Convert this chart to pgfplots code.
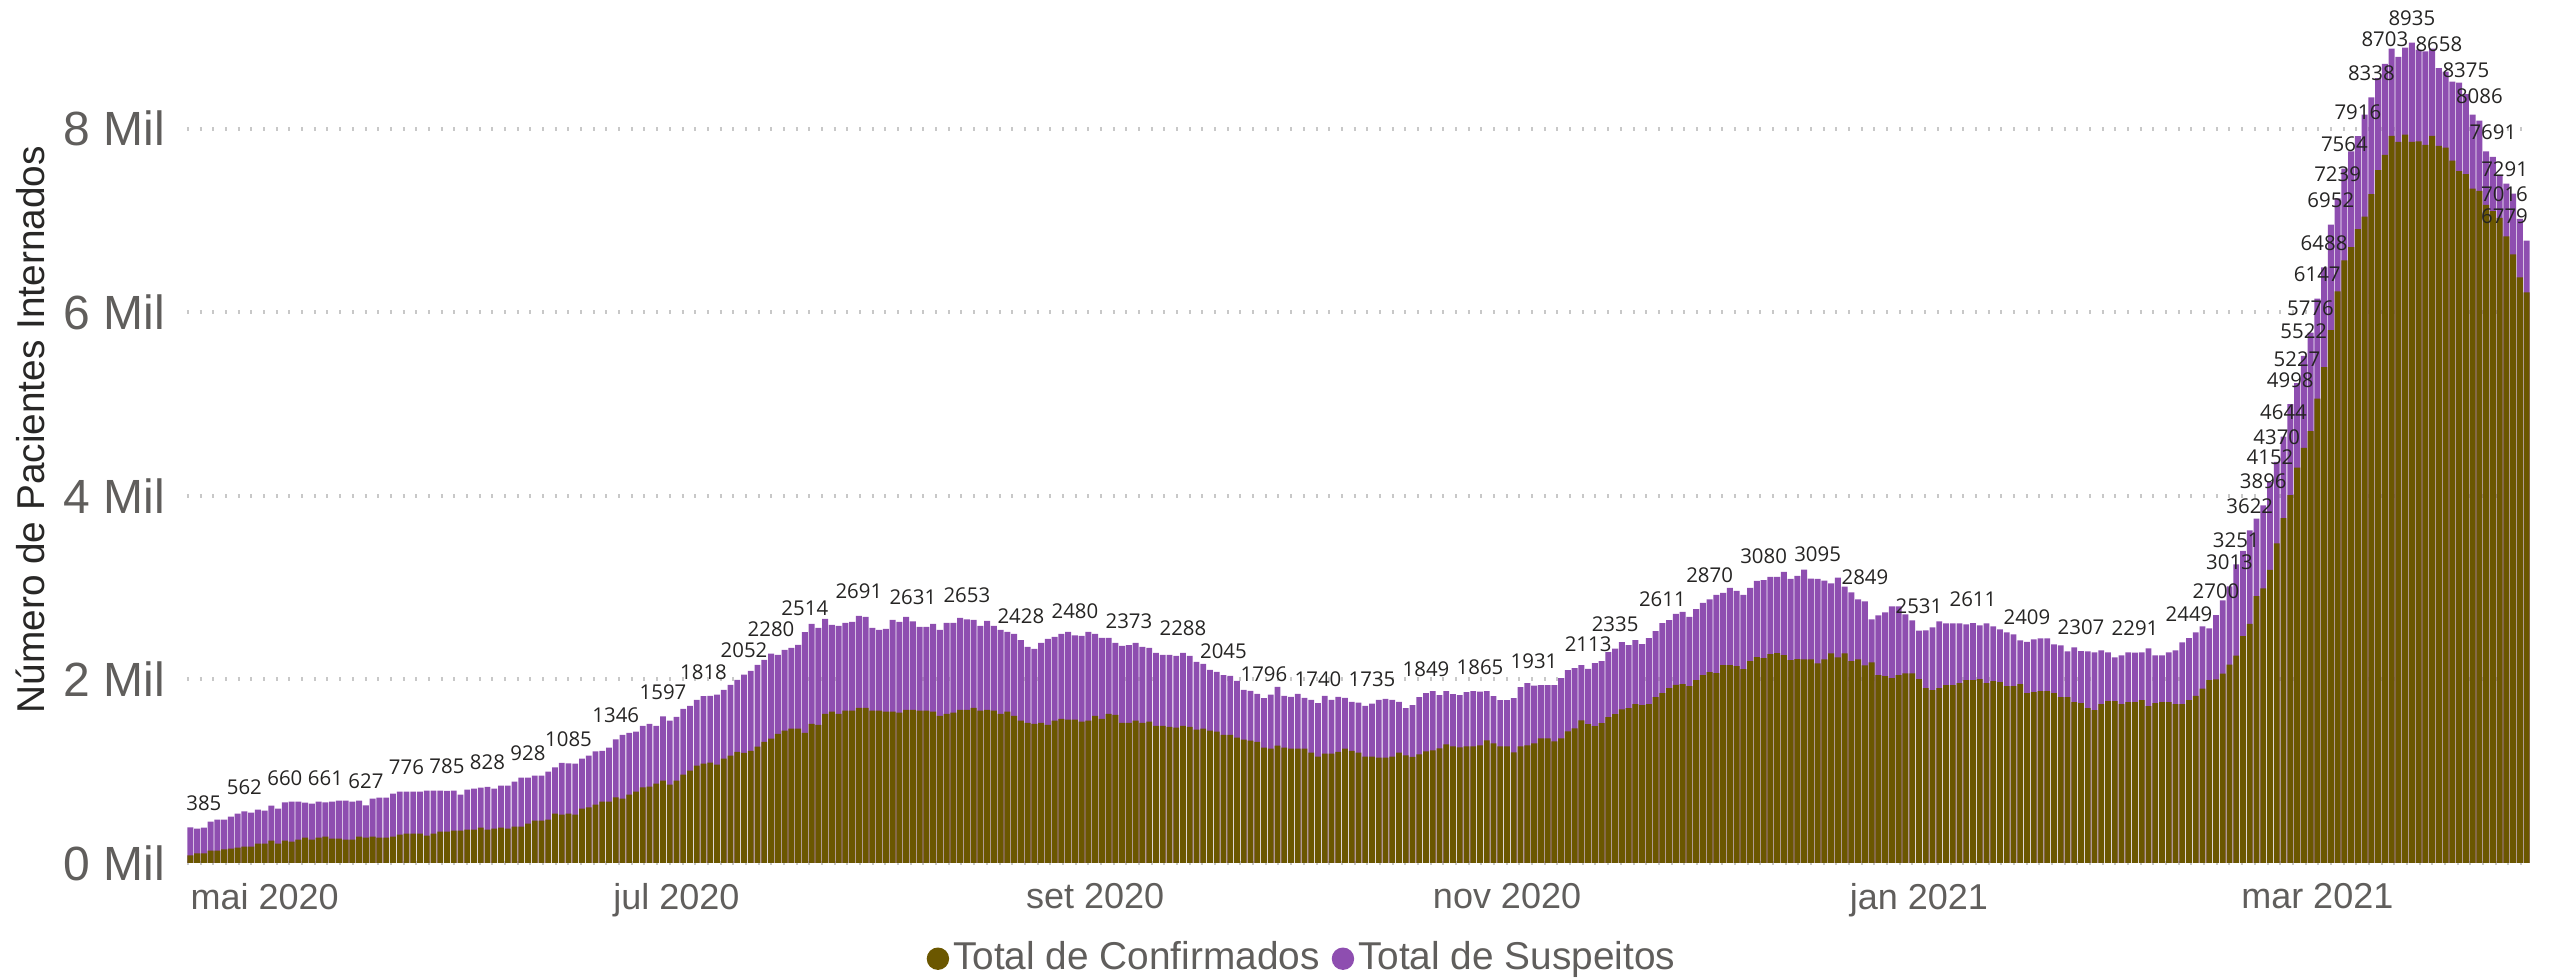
\documentclass[border=0pt]{standalone}
\usepackage{pgfplots}
\usepackage{pgfplotstable}
\usepackage{fontspec}
\pgfplotsset{compat=1.18}
\setmainfont{Liberation Sans}
\newfontfamily\labfont{Open Sans}

\definecolor{confcol}{RGB}{107,87,0}
\definecolor{suspcol}{RGB}{142,78,176}
\definecolor{txtgray}{RGB}{96,94,92}
\definecolor{titgray}{RGB}{40,39,38}
\definecolor{gridgray}{RGB}{200,200,200}
\definecolor{labblack}{RGB}{37,36,35}

% k = day index (0 = 20 abr 2020), conf = confirmados, susp = suspeitos
\pgfplotstableread{
k conf susp
0 83 305
1 105 269
2 105 280
3 134 316
4 134 338
5 149 323
6 156 348
7 167 370
8 178 384
9 178 370
10 210 370
11 210 359
12 243 381
13 210 381
14 243 417
15 232 435
16 254 413
17 276 380
18 254 392
19 276 391
20 287 374
21 265 402
22 265 413
23 254 424
24 254 413
25 287 391
26 276 351
27 287 413
28 276 435
29 276 435
30 287 467
31 308 468
32 319 457
33 319 457
34 319 457
35 297 490
36 319 468
37 341 446
38 341 444
39 352 435
40 352 392
41 363 435
42 363 446
43 384 436
44 363 465
45 374 435
46 384 457
47 374 467
48 395 490
49 395 533
50 428 500
51 461 489
52 461 489
53 472 522
54 537 503
55 526 564
56 537 548
57 526 555
58 591 544
59 606 562
60 635 580
61 667 555
62 667 588
63 715 631
64 700 696
65 744 674
66 776 653
67 823 671
68 831 685
69 863 631
70 896 701
71 852 697
72 896 696
73 961 718
74 1005 707
75 1059 718
76 1081 737
77 1092 729
78 1070 762
79 1135 751
80 1168 772
81 1211 784
82 1200 852
83 1222 871
84 1266 892
85 1320 892
86 1353 927
87 1407 860
88 1440 881
89 1462 881
90 1462 914
91 1418 1096
92 1516 1088
93 1505 1056
94 1625 1034
95 1647 946
96 1625 957
97 1658 957
98 1658 968
99 1690 1001
100 1690 990
101 1658 903
102 1658 881
103 1647 903
104 1647 1001
105 1636 990
106 1668 1012
107 1668 963
108 1658 914
109 1658 914
110 1647 957
111 1603 936
112 1625 990
113 1636 979
114 1668 1001
115 1668 985
116 1690 958
117 1658 924
118 1668 969
119 1658 924
120 1625 914
121 1647 870
122 1603 892
123 1549 879
124 1527 827
125 1516 816
126 1527 870
127 1505 936
128 1549 914
129 1570 925
130 1560 957
131 1560 920
132 1538 936
133 1549 968
134 1603 892
135 1570 882
136 1625 827
137 1614 783
138 1527 838
139 1527 846
140 1549 848
141 1527 827
142 1538 805
143 1494 795
144 1494 773
145 1483 784
146 1473 783
147 1494 794
148 1483 773
149 1451 740
150 1462 707
151 1440 664
152 1429 653
153 1396 649
154 1396 642
155 1364 620
156 1342 544
157 1331 544
158 1320 522
159 1255 541
160 1244 588
161 1277 642
162 1255 566
163 1244 566
164 1244 598
165 1244 555
166 1201 576
167 1157 583
168 1190 631
169 1190 587
170 1211 599
171 1244 555
172 1222 533
173 1201 544
174 1157 555
175 1157 578
176 1146 631
177 1146 642
178 1157 620
179 1201 554
180 1172 513
181 1154 564
182 1183 622
183 1216 633
184 1227 644
185 1249 578
186 1292 579
187 1270 568
188 1259 568
189 1270 590
190 1270 601
191 1281 584
192 1336 535
193 1303 513
194 1270 503
195 1270 503
196 1205 590
197 1270 645
198 1281 677
199 1303 628
200 1358 578
201 1358 578
202 1325 611
203 1358 655
204 1434 666
205 1467 655
206 1554 601
207 1511 602
208 1489 688
209 1522 677
210 1587 710
211 1620 715
212 1674 732
213 1685 688
214 1729 699
215 1718 666
216 1729 721
217 1805 721
218 1849 762
219 1904 742
220 1940 772
221 1947 787
222 1926 753
223 1991 775
224 2046 786
225 2078 792
226 2068 851
227 2155 786
228 2155 841
229 2144 819
230 2111 808
231 2199 797
232 2242 830
233 2231 849
234 2275 841
235 2286 830
236 2264 906
237 2209 885
238 2220 907
239 2218 978
240 2218 880
241 2175 920
242 2218 858
243 2284 760
244 2240 869
245 2284 727
246 2197 749
247 2218 652
248 2153 696
249 2186 467
250 2045 651
251 2034 695
252 2012 782
253 2045 749
254 2066 641
255 2066 576
256 2001 530
257 1904 629
258 1882 684
259 1904 727
260 1936 673
261 1936 673
262 1958 651
263 1990 608
264 1990 621
265 2001 587
266 1958 651
267 1980 597
268 1969 575
269 1925 587
270 1925 565
271 1947 478
272 1849 560
273 1860 576
274 1871 575
275 1871 575
276 1849 532
277 1806 564
278 1806 499
279 1752 597
280 1741 566
281 1686 619
282 1665 629
283 1730 586
284 1762 532
285 1762 478
286 1730 532
287 1752 542
288 1752 539
289 1773 521
290 1708 630
291 1741 521
292 1752 510
293 1752 542
294 1730 586
295 1730 673
296 1773 676
297 1820 692
298 1900 677
299 1990 565
300 2000 700
301 2061 799
302 2159 854
303 2257 994
304 2471 929
305 2605 1017
306 2905 845
307 2991 905
308 3193 959
309 3480 890
310 3755 889
311 4006 992
312 4306 921
313 4520 1002
314 4703 1073
315 5058 1089
316 5400 1088
317 5804 1148
318 6226 1013
319 6563 1001
320 6709 1041
321 6905 1011
322 7039 1111
323 7284 1054
324 7547 1003
325 7712 991
326 7920 950
327 7853 927
328 7932 948
329 7853 1082
330 7859 1001
331 7822 1018
332 7920 950
333 7810 848
334 7792 828
335 7651 859
336 7535 965
337 7504 871
338 7345 805
339 7321 765
340 7168 582
341 7101 590
342 7027 463
343 6826 574
344 6630 661
345 6379 637
346 6214 565
}\hosp

\begin{document}
\begin{tikzpicture}
\begin{axis}[
  name=ax,
  scale only axis,
  width=585.75pt, height=215.75pt,
  xmin=-0.5, xmax=346.5,
  ymin=0, ymax=9400,
  enlargelimits=false,
  clip=false,
  axis line style={draw=none},
  major tick length=0pt,
  ymajorgrids,
  grid style={gridgray, line width=1pt, dash pattern=on 0.5pt off 2.67pt},
  ytick={0,2000,4000,6000,8000},
  yticklabels={0 Mil,2 Mil,4 Mil,6 Mil,8 Mil},
  yticklabel style={font=\fontsize{12}{14}\selectfont, text=txtgray, anchor=east, inner sep=0pt, xshift=-5.25pt},
  xtick={11,72,134,195,256,315},
  xticklabels={mai 2020,jul 2020,set 2020,nov 2020,jan 2021,mar 2021},
  xticklabel style={font=\fontsize{9}{11}\selectfont, text=txtgray, anchor=north, inner sep=0pt, yshift=-5pt},
  ylabel={Número de Pacientes Internados},
  ylabel style={at={(axis description cs:-0.0670,0.502)}, anchor=center, font=\fontsize{9.7}{11}\selectfont, text=titgray},
  legend style={at={(axis description cs:0.4763,-0.111)}, anchor=center, draw=none, fill=none,
    legend columns=-1, font=\fontsize{9.7}{11}\selectfont, text=txtgray,
    nodes={inner sep=1pt},
    /tikz/every even column/.append style={column sep=2pt}},
]
% total height drawn first (purple), confirmed drawn over it (olive)
\addplot[ybar, bar width=0.87, bar shift=0pt, fill=suspcol, draw=none, forget plot]
  table[x=k, y expr=\thisrow{conf}+\thisrow{susp}] {\hosp};
\addplot[ybar, bar width=0.87, bar shift=0pt, fill=confcol, draw=none, forget plot]
  table[x=k, y=conf] {\hosp};

% data labels (totals)
\pgfplotsset{labstyle/.style={draw=none, no marks, forget plot,
  nodes near coords={\pgfplotspointmeta}, point meta=explicit symbolic,
  every node near coord/.append style={font=\labfont\fontsize{5.1}{6}\selectfont, text=labblack, inner sep=0pt, yshift=4pt}}}
\addplot[labstyle, every node near coord/.append style={anchor=south}] coordinates {
  (2,385)[385] (8,562)[562] (14,660)[660] (20,661)[661] (26,627)[627] (32,776)[776]
  (38,785)[785] (44,828)[828] (50,928)[928] (56,1085)[1085] (63,1346)[1346] (70,1597)[1597]
  (76,1818)[1818] (82,2052)[2052] (86,2280)[2280] (91,2514)[2514] (99,2691)[2691]
  (107,2631)[2631] (115,2653)[2653] (123,2428)[2428] (131,2480)[2480] (139,2373)[2373]
  (147,2288)[2288] (153,2045)[2045] (159,1796)[1796] (167,1740)[1740] (175,1735)[1735]
  (183,1849)[1849] (191,1865)[1865] (199,1931)[1931] (207,2113)[2113] (211,2335)[2335]
  (218,2611)[2611] (225,2870)[2870] (233,3080)[3080] (241,3095)[3095] (248,2849)[2849]
  (256,2531)[2531] (264,2611)[2611] (272,2409)[2409] (280,2307)[2307] (288,2291)[2291]
  (296,2449)[2449] (300,2700)[2700] (302,3013)[3013] (303,3251)[3251] (305,3622)[3622]
  (307,3896)[3896] (308,4152)[4152] (309,4370)[4370] (310,4644)[4644] (311,4998)[4998]
  (312,5227)[5227] (313,5522)[5522] (314,5776)[5776] (315,6147)[6147] (316,6488)[6488]
  (317,6952)[6952] (318,7239)[7239] (319,7564)[7564] (321,7916)[7916] (323,8338)[8338]
  (325,8703)[8703] (329,8935)[8935] (333,8658)[8658] (337,8375)[8375] (339,8086)[8086]
  (341,7691)[7691]
};
% labels at the right edge are pushed inside the plot
\addplot[labstyle, every node near coord/.append style={anchor=south east, xshift=3.9pt}] coordinates {(344,7291)[7291]};
\addplot[labstyle, every node near coord/.append style={anchor=south east, xshift=2.2pt}] coordinates {(345,7016)[7016]};
\addplot[labstyle, every node near coord/.append style={anchor=south east, xshift=0.5pt}] coordinates {(346,6779)[6779]};

\addlegendimage{legend image code/.code={\fill[confcol] (2.6pt,0pt) circle (2.6pt);}}
\addlegendentry{Total de Confirmados}
\addlegendimage{legend image code/.code={\fill[suspcol] (2.6pt,0pt) circle (2.6pt);}}
\addlegendentry{Total de Suspeitos}
\end{axis}
\pgfresetboundingbox
\path[use as bounding box] ([xshift=-46.75pt,yshift=-29pt]ax.south west) rectangle ([xshift=4.75pt]ax.north east);
\end{tikzpicture}
\end{document}
